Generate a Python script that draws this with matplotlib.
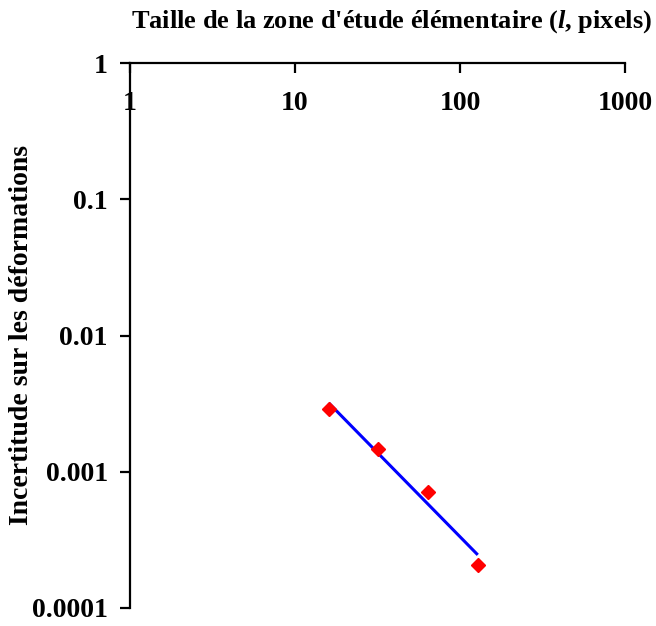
import matplotlib
matplotlib.use("Agg")
from matplotlib import pyplot as plt
from matplotlib.ticker import NullLocator, FixedLocator, FixedFormatter

# taille de la zone d'etude (pixels) et incertitude mesuree
taille = [16, 32, 64, 128]
incertitude = [0.00287, 0.00146, 0.00071, 0.000207]

# droite de regression (loi puissance) entre les bornes
fit_x = [16, 128]
fit_y = [0.0032, 0.000245]

x_ticks = [1, 10, 100, 1000]
x_labels = ["1", "10", "100", "1000"]
y_ticks = [0.0001, 0.001, 0.01, 0.1, 1]
y_labels = ["0.0001", "0.001", "0.01", "0.1", "1"]

plt.rcParams['font.family'] = ['Liberation Serif', 'DejaVu Serif']
plt.rcParams['font.weight'] = 'bold'
plt.rcParams['mathtext.fontset'] = 'custom'
plt.rcParams['mathtext.it'] = 'Liberation Serif:italic'
plt.rcParams['mathtext.bfit'] = 'Liberation Serif:italic:bold'

fig = plt.figure(figsize=(6.56, 6.26), dpi=100)
ax = fig.add_axes([0.198, 0.029, 0.755, 0.870])

ax.plot(fit_x, fit_y, color='#0000ff', lw=2.2, solid_capstyle='butt', zorder=2)
ax.plot(taille, incertitude, ls='none', marker='D', ms=7.5, color='#ff0000', zorder=3)

ax.set_xscale('log')
ax.set_yscale('log')
ax.set_xlim(1, 1000)
ax.set_ylim(0.0001, 1)

ax.xaxis.set_major_locator(FixedLocator(x_ticks))
ax.xaxis.set_major_formatter(FixedFormatter(x_labels))
ax.yaxis.set_major_locator(FixedLocator(y_ticks))
ax.yaxis.set_major_formatter(FixedFormatter(y_labels))
ax.xaxis.set_minor_locator(NullLocator())
ax.yaxis.set_minor_locator(NullLocator())

for s in ['right', 'bottom']:
    ax.spines[s].set_visible(False)
for s in ['left', 'top']:
    ax.spines[s].set_linewidth(1.6)

ax.tick_params(axis='x', top=True, bottom=False, labeltop=True, labelbottom=False,
               direction='in', length=7, width=1.6, pad=-38, labelsize=20)
ax.tick_params(axis='y', direction='out', length=7, width=1.6, labelsize=20, pad=9)

fig.text(391 / 656, 1 - 22 / 626, "Taille de la zone d'étude élémentaire ($\\mathbfit{l}$, pixels)",
         fontsize=19, fontweight='bold', ha='center', va='center')
fig.text(22 / 656, 1 - 335 / 626, "Incertitude sur les déformations",
         fontsize=20, fontweight='bold', ha='center', va='center', rotation=90)

fig.savefig("out.png", dpi=100)
